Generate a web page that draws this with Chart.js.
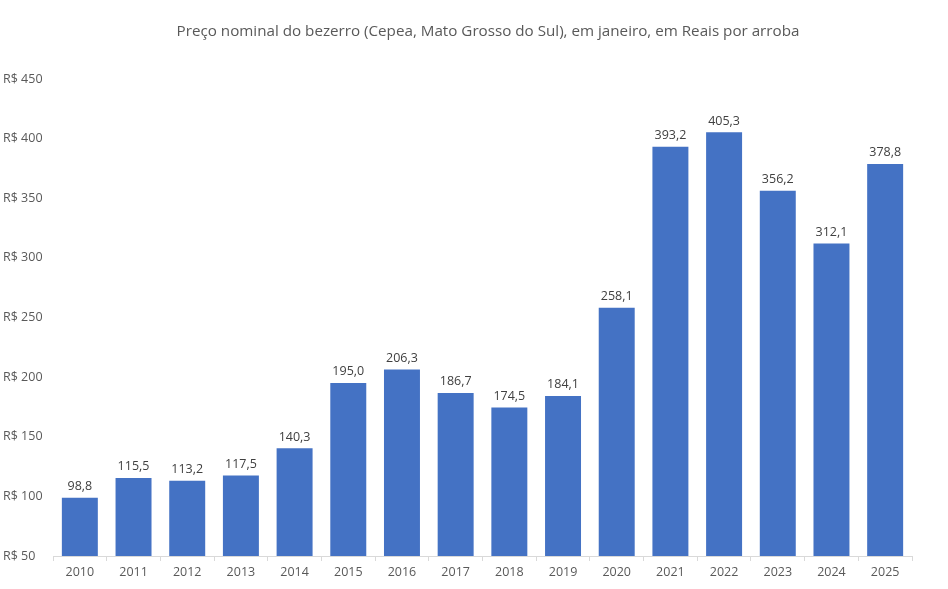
<!DOCTYPE html>
<html>
<head>
<meta charset="utf-8">
<script src="https://cdn.jsdelivr.net/npm/chart.js@4"></script>
<style>
  html, body { margin: 0; padding: 0; background: #fff; }
  #wrap { width: 948px; height: 589px; }
</style>
</head>
<body>
<div id="wrap"><canvas id="c"></canvas></div>
<script>
const TITLE = 'Preço nominal do bezerro (Cepea, Mato Grosso do Sul), em janeiro, em Reais por arroba';
const years = ['2010','2011','2012','2013','2014','2015','2016','2017','2018','2019','2020','2021','2022','2023','2024','2025'];
const prices = [98.8, 115.5, 113.2, 117.5, 140.3, 195.0, 206.3, 186.7, 174.5, 184.1, 258.1, 393.2, 405.3, 356.2, 312.1, 378.8];

const FONT = "'Open Sans', 'Liberation Sans', sans-serif";
const fmt = v => v.toFixed(1).replace('.', ',');

// ── Title + value labels drawn on top of bars ─────────────────────────
const labelsPlugin = {
  id: 'labels',
  afterDatasetsDraw(chart) {
    const ctx = chart.ctx;
    ctx.save();
    ctx.fillStyle = '#595959';
    ctx.font = `15.2px ${FONT}`;
    ctx.textAlign = 'center';
    ctx.textBaseline = 'middle';
    ctx.fillText(TITLE, 488, 32);

    ctx.fillStyle = '#404040';
    ctx.font = `12.5px ${FONT}`;
    ctx.textBaseline = 'bottom';
    chart.getDatasetMeta(0).data.forEach((bar, i) => {
      ctx.fillText(fmt(prices[i]), bar.x, bar.y - 5);
    });
    ctx.restore();
  }
};

new Chart(document.getElementById('c'), {
  type: 'bar',
  data: {
    labels: years,
    datasets: [{
      data: prices,
      backgroundColor: '#4472C4',
      barPercentage: 0.67,
      categoryPercentage: 1,
    }]
  },
  options: {
    responsive: true,
    maintainAspectRatio: false,
    animation: false,
    layout: { padding: { top: 79, right: 36, bottom: 5, left: 3 } },
    plugins: {
      legend: { display: false },
      tooltip: { enabled: false },
      title: { display: false },
    },
    scales: {
      y: {
        min: 50,
        max: 450,
        afterFit: s => { s.width = 50; },
        ticks: {
          stepSize: 50,
          callback: v => 'R$ ' + v,
          color: '#595959',
          font: { family: FONT, size: 12.5 },
          crossAlign: 'far',
          padding: 0,
        },
        grid: { display: false },
        border: { display: false },
      },
      x: {
        offset: true,
        ticks: {
          color: '#595959',
          font: { family: FONT, size: 12.5 },
          padding: 4,
        },
        grid: {
          offset: true,
          drawOnChartArea: false,
          drawTicks: true,
          tickLength: 5,
          color: '#d9d9d9',
        },
        border: { display: true, color: '#d9d9d9' },
      }
    }
  },
  plugins: [labelsPlugin]
});
</script>
</body>
</html>
